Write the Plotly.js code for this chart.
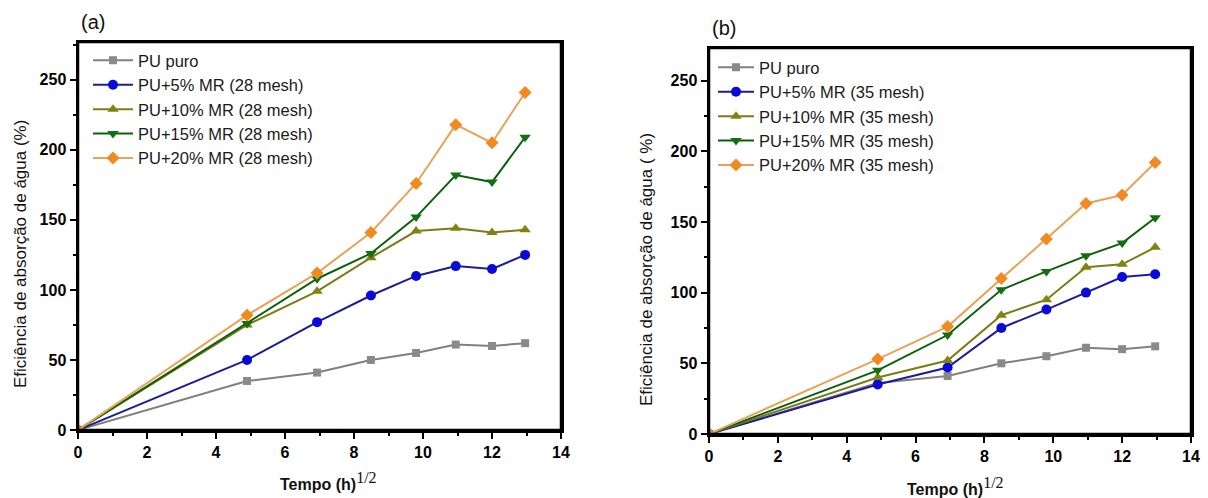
<!DOCTYPE html>
<html>
<head>
<meta charset="utf-8">
<script src="https://cdn.plot.ly/plotly-3.0.1.min.js"></script>
<style>html,body{margin:0;padding:0;background:#fff;}#chart{width:1208px;height:498px;}</style>
</head>
<body>
<div id="chart"></div>
<script>
// Tempo (h)^1/2
const tempo = [0, 4.90, 6.93, 8.49, 9.80, 10.95, 12.0, 12.96];

// Panel (a) - 28 mesh
const seriesNamesA = ["PU puro", "PU+5% MR (28 mesh)", "PU+10% MR (28 mesh)", "PU+15% MR (28 mesh)", "PU+20% MR (28 mesh)"];
const a_puro = [0, 35, 41, 50, 55, 61, 60, 62];
const a_mr5  = [0, 50, 77, 96, 110, 117, 115, 125];
const a_mr10 = [0, 75, 99, 123, 142, 144, 141, 143];
const a_mr15 = [0, 76, 108, 126, 152, 182, 177, 209];
const a_mr20 = [0, 82, 112, 141, 176, 218, 205, 241];

// Panel (b) - 35 mesh
const seriesNamesB = ["PU puro", "PU+5% MR (35 mesh)", "PU+10% MR (35 mesh)", "PU+15% MR (35 mesh)", "PU+20% MR (35 mesh)"];
const b_puro = [0, 36, 41, 50, 55, 61, 60, 62];
const b_mr5  = [0, 35, 47, 75, 88, 100, 111, 113];
const b_mr10 = [0, 40, 52, 84, 95, 118, 120, 132];
const b_mr15 = [0, 45, 70, 102, 115, 126, 135, 153];
const b_mr20 = [0, 53, 76, 110, 138, 163, 169, 192];

const styles = [
  {line: "#808080", marker: "#8a8a8a", symbol: "square"},
  {line: "#1c1c96", marker: "#0a0ad8", symbol: "circle"},
  {line: "#7c7c14", marker: "#828210", symbol: "triangle-up"},
  {line: "#0d5e0d", marker: "#127012", symbol: "triangle-down"},
  {line: "#e6a458", marker: "#f28a22", symbol: "diamond"}
];

function makeTraces(names, ys, xa, ya, leg) {
  return ys.map((y, i) => ({
    x: tempo, y: y, name: names[i], type: "scatter", mode: "lines+markers",
    xaxis: xa, yaxis: ya, legend: leg,
    line: {color: styles[i].line, width: 2},
    marker: {symbol: styles[i].symbol, size: styles[i].symbol === "square" ? 8 : 10, color: styles[i].marker,
             line: {width: 0}}
  }));
}

const traces = [
  ...makeTraces(seriesNamesA, [a_puro, a_mr5, a_mr10, a_mr15, a_mr20], "x", "y", "legend"),
  ...makeTraces(seriesNamesB, [b_puro, b_mr5, b_mr10, b_mr15, b_mr20], "x2", "y2", "legend2")
];

const W = 1208, H = 498;
const px = v => v / W;
const py = v => 1 - v / H;

const FAM = "Liberation Sans, Arial, sans-serif";
const tickFont = {family: FAM, size: 16, color: "#000", weight: 700};

function xAxis(dom, anchor) {
  return {
    domain: dom, anchor: anchor, range: [0, 14], dtick: 2, tick0: 0,
    showgrid: false, zeroline: false, showline: true, mirror: true, linecolor: "#000", linewidth: 2.5,
    ticks: "outside", ticklen: 6, tickwidth: 2, tickcolor: "#000", tickfont: tickFont,
    minor: {dtick: 1, ticks: "outside", ticklen: 3, tickwidth: 2, tickcolor: "#000", showgrid: false},
    fixedrange: true
  };
}
function yAxis(dom, anchor, top) {
  return {
    domain: dom, anchor: anchor, range: [0, top], dtick: 50, tick0: 0,
    showgrid: false, zeroline: false, showline: true, mirror: true, linecolor: "#000", linewidth: 2.5,
    ticks: "outside", ticklen: 6, tickwidth: 2, tickcolor: "#000", tickfont: tickFont,
    minor: {dtick: 25, ticks: "outside", ticklen: 3, tickwidth: 2, tickcolor: "#000", showgrid: false},
    fixedrange: true
  };
}

const legFont = {family: FAM, size: 16.5, color: "#1a1a1a"};
const xTitleText = "<b>Tempo (h)</b><sup><span style=\"font-family:'Liberation Serif', 'Times New Roman', serif;font-size:16px\">1/2</span></sup>";

function ann(text, x, y, size, angle) {
  return {text: text, xref: "paper", yref: "paper", x: px(x), y: py(y), xanchor: "center", yanchor: "middle",
          showarrow: false, textangle: angle || 0, font: {family: FAM, size: size, color: "#111"}};
}

const layout = {
  width: W, height: H,
  margin: {l: 0, r: 0, t: 0, b: 0},
  paper_bgcolor: "#fff", plot_bgcolor: "#fff",
  showlegend: true,
  xaxis: xAxis([px(78), px(561)], "y"),
  yaxis: yAxis([py(430), py(42)], "x", 277),
  xaxis2: xAxis([px(709), px(1191)], "y2"),
  yaxis2: yAxis([py(434), py(48)], "x2", 273),
  legend: {x: px(88), y: py(43), xanchor: "left", yanchor: "top", bgcolor: "rgba(0,0,0,0)",
           font: legFont, itemwidth: 40, tracegroupgap: 0, traceorder: "normal"},
  legend2: {x: px(713), y: py(50), xanchor: "left", yanchor: "top", bgcolor: "rgba(0,0,0,0)",
            font: legFont, itemwidth: 36, tracegroupgap: 0, traceorder: "normal"},
  shapes: [
    {type: "rect", xref: "x domain", yref: "y domain", x0: 0, x1: 1, y0: 0, y1: 1, layer: "above",
     line: {color: "#000", width: 2.5}},
    {type: "rect", xref: "x2 domain", yref: "y2 domain", x0: 0, x1: 1, y0: 0, y1: 1, layer: "above",
     line: {color: "#000", width: 2.5}}
  ],
  annotations: [
    ann("(a)", 93, 22, 20),
    ann("(b)", 724, 28, 20),
    ann("Eficiência de absorção de água (%)", 20, 254, 17, -90),
    ann("Eficiência de absorção de água ( %)", 646, 270, 17, -90),
    ann(xTitleText, 328, 481, 16),
    ann(xTitleText, 955, 486, 16)
  ]
};

Plotly.newPlot("chart", traces, layout, {displayModeBar: false, staticPlot: true});
</script>
</body>
</html>
